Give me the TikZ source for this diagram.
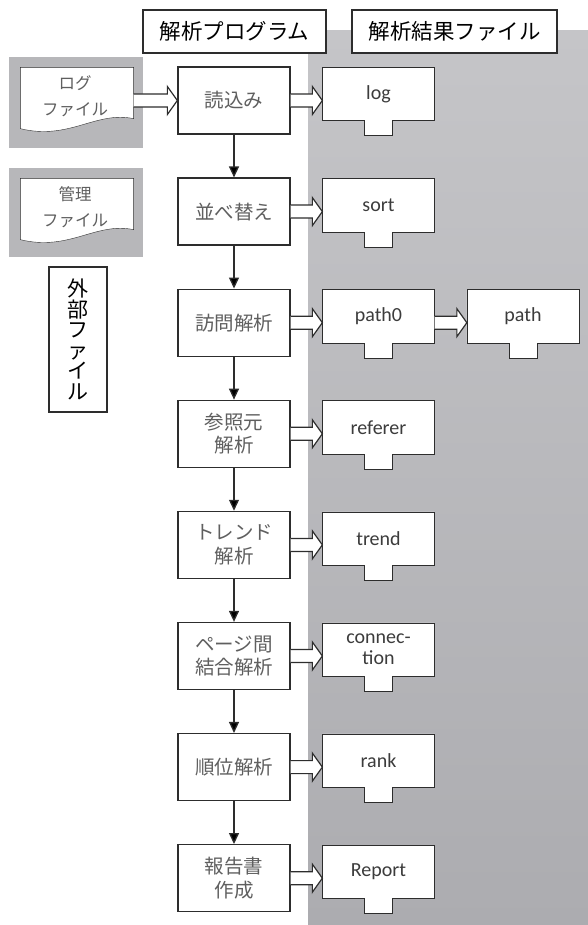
\documentclass[tikz,border=0pt]{standalone}
\usepackage{fontspec}
\setmainfont{Noto Sans CJK JP}
\newfontfamily\latinfont{Carlito}
\usetikzlibrary{positioning, calc, arrows.meta, backgrounds}

\definecolor{panellight}{RGB}{197,197,200}
\definecolor{paneldark}{RGB}{172,172,176}
\definecolor{docgray}{RGB}{183,183,186}
\definecolor{linegray}{RGB}{45,45,45}
\definecolor{textgray}{RGB}{95,95,95}
\definecolor{filetext}{RGB}{60,60,60}

% hollow block arrow: from, to, row node giving the height
\newcommand{\blockarrow}[3]{%
  \draw[hollow] ($(#1.east |- #3)+(0,6.5pt)$) -- ($(#2.west |- #3)+(-10pt,6.5pt)$)
    -- ($(#2.west |- #3)+(-10pt,14pt)$) -- (#2.west |- #3)
    -- ($(#2.west |- #3)+(-10pt,-14pt)$) -- ($(#2.west |- #3)+(-10pt,-6.5pt)$)
    -- ($(#1.east |- #3)+(0,-6.5pt)$);}

\begin{document}
\begin{tikzpicture}[x=1pt, y=-1pt, >={Triangle[length=11pt,width=10pt]}, node distance=111.1pt, line width=1.3pt,
    prog/.style={draw=linegray, fill=white, minimum width=112pt, minimum height=67pt, inner sep=0pt,
      align=center, text=textgray, font=\fontsize{19.5}{23.5}\selectfont},
    filebox/.style={minimum width=111pt, minimum height=52pt, inner sep=0pt, align=center, text=filetext,
      font=\latinfont\fontsize{20}{21}\selectfont, node distance=144.5pt, yshift=6.5pt},
    header/.style={draw=linegray, fill=white, minimum height=43pt, inner sep=0pt, font=\fontsize{21.5}{21.5}\selectfont},
    doc/.style={minimum width=112pt, minimum height=50pt, inner sep=0pt, align=center, text=textgray,
      font=\fontsize{16.5}{26}\selectfont},
    hollow/.style={draw=linegray, fill=white, line width=1.2pt}]
    \useasboundingbox (0,0) rectangle (588,925);

    % Headers
    \node[header, minimum width=183pt] (hprog) at (234.5,31.5) {解析プログラム};
    \node[header, minimum width=205pt] (hfile) at (454.5,31.5) {解析結果ファイル};

    % External files
    \node[doc] (logdoc) at (77,93) {};
    \node[doc] (mgrdoc) at (77,204) {};
    \node[doc] (logtext) at (75,96) {ログ\\ファイル};
    \node[doc] (mgrtext) at (75,207) {管理\\ファイル};
    \node[draw=linegray, minimum width=58pt, minimum height=145pt, inner sep=0pt, align=center,
      font=\fontsize{21}{20.6}\selectfont] (extern) at (78,339.5) {外\\部\\フ\\ァ\\イ\\ル};

    % Analysis programs
    \node[prog] (p1) at (234,100.5) {読込み};
    \node[prog] (p2) [below of=p1] {並べ替え};
    \node[prog] (p3) [below of=p2] {訪問解析};
    \node[prog] (p4) [below of=p3] {参照元\\解析};
    \node[prog] (p5) [below of=p4] {トレンド\\解析};
    \node[prog] (p6) [below of=p5] {ページ間\\結合解析};
    \node[prog] (p7) [below of=p6] {順位解析};
    \node[prog] (p8) [below of=p7] {報告書\\作成};

    % Result files
    \node[filebox] (f1) [right of=p1] {log};
    \node[filebox] (f2) [right of=p2] {sort};
    \node[filebox] (f3) [right of=p3] {path0};
    \node[filebox] (f4) [right of=p4] {referer};
    \node[filebox] (f5) [right of=p5] {trend};
    \node[filebox] (f6) [right of=p6] {connec-\\tion};
    \node[filebox] (f7) [right of=p7] {rank};
    \node[filebox] (f8) [right of=p8] {Report};
    \node[filebox] (f9) [right of=f3, yshift=-6.5pt] {path};

    % Program flow
    \path[->, draw=linegray]
    (p1) edge (p2)
    (p2) edge (p3)
    (p3) edge (p4)
    (p4) edge (p5)
    (p5) edge (p6)
    (p6) edge (p7)
    (p7) edge (p8);

    % Data flow
    \blockarrow{logdoc}{p1}{p1}
    \foreach \i in {1,...,8} {\blockarrow{p\i}{f\i}{p\i}}
    \blockarrow{f3}{f9}{p3}

    \begin{scope}[on background layer]
        \fill[top color=panellight, bottom color=paneldark] (308,31) rectangle (588,925);
        \fill[docgray] (9,57) rectangle (143,148);
        \fill[docgray] (9,168) rectangle (143,257);
        \foreach \d in {logdoc, mgrdoc}
            \draw[draw=linegray, fill=white] (\d.north west) -- (\d.north east) -- (\d.south east)
            .. controls +(-38pt,8pt) and +(49pt,-12pt) .. ($(\d.south west)+(0,-10pt)$) -- cycle;
        \foreach \f in {f1,f2,f3,f4,f5,f6,f7,f8,f9}
            \draw[draw=linegray, fill=white] (\f.north west) -- (\f.north east) -- (\f.south east)
            -- ($(\f.south)+(14pt,0)$) -- ++(0,-15pt) -- ++(-28pt,0) -- ++(0,15pt) -- (\f.south west) -- cycle;
    \end{scope}
\end{tikzpicture}
\end{document}
